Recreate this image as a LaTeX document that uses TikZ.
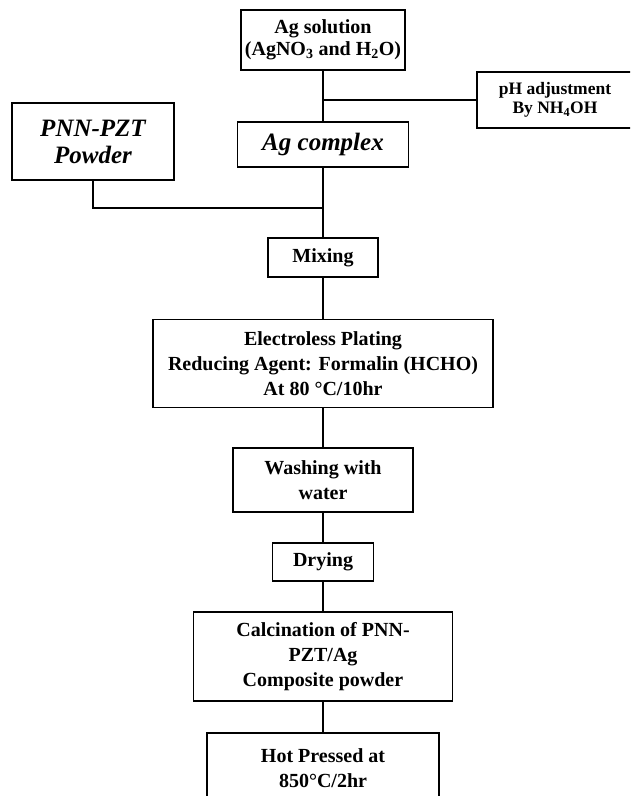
\documentclass[tikz,border=0pt]{standalone}
\usepackage{fontspec}
\setmainfont{Liberation Serif}
\begin{document}
\begin{tikzpicture}[x=1pt,y=-1pt,
  box/.style={draw=black, line width=1.6pt, rectangle, align=center, inner sep=0pt,
    font=\bfseries\fontsize{20}{25}\selectfont},
  big/.style={font=\bfseries\itshape\fontsize{25}{27}\selectfont},
  small/.style={font=\bfseries\fontsize{17.5}{19}\selectfont},
  conn/.style={line width=1.6pt}]
\clip (0,0) rectangle (630,796);
\fill[white] (0,0) rectangle (630,796);
\node[box, minimum width=164pt, minimum height=60pt, font=\bfseries\fontsize{20}{22}\selectfont] (agsol) at (323,40) {Ag solution\\(AgNO\textsubscript{3} and H\textsubscript{2}O)};
\node[box, small, minimum width=156pt, minimum height=56pt] (ph) at (555,100) {pH adjustment\\By NH\textsubscript{4}OH};
\node[box, big, minimum width=171pt, minimum height=45pt] (agc) at (323,144.5) {Ag complex};
\node[box, big, minimum width=162pt, minimum height=77pt] (pnn) at (93,141.5) {PNN-PZT\\Powder};
\node[box, minimum width=110pt, minimum height=39pt] (mix) at (323,257.5) {Mixing};
\node[box, minimum width=340pt, minimum height=88pt] (el) at (323,363.5) {Electroless Plating\\Reducing Agent: Formalin (HCHO)\\At 80 \textdegree C/10hr};
\node[box, minimum width=180pt, minimum height=64pt] (wash) at (323,480) {Washing with\\water};
\node[box, minimum width=101pt, minimum height=38pt] (dry) at (323,562) {Drying};
\node[box, minimum width=259pt, minimum height=89pt] (calc) at (323,656.5) {Calcination of PNN-\\PZT/Ag\\Composite powder};
\node[box, minimum width=232pt, minimum height=70pt] (hot) at (323,768) {Hot Pressed at\\850\textdegree C/2hr};
\coordinate (join) at (323,208);
\draw[conn] (agsol.south) -- (agc.north);
\draw[conn] (ph.west) -- (ph.west -| agsol.south);
\draw[conn] (pnn.south) -- (pnn.south |- join) -- (join);
\draw[conn] (agc.south) -- (mix.north);
\draw[conn] (mix.south) -- (el.north);
\draw[conn] (el.south) -- (wash.north);
\draw[conn] (wash.south) -- (dry.north);
\draw[conn] (dry.south) -- (calc.north);
\draw[conn] (calc.south) -- (hot.north);
\end{tikzpicture}
\end{document}
